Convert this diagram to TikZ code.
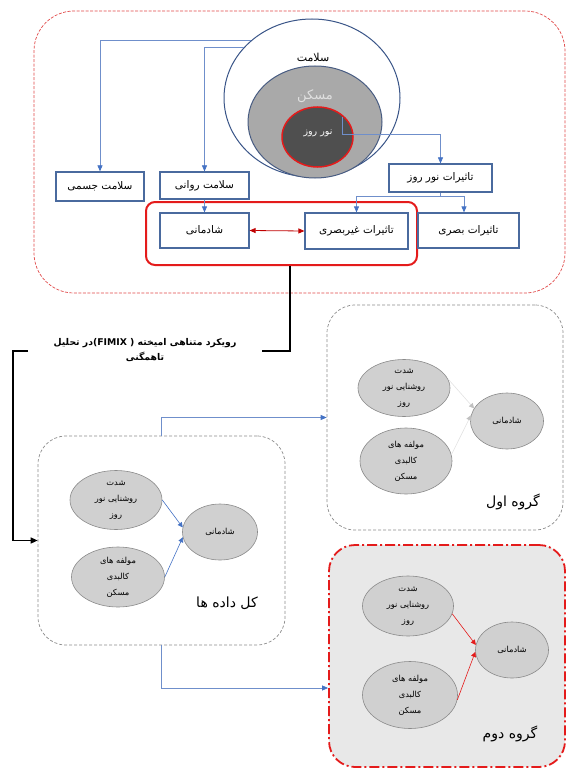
\documentclass[tikz,border=0pt]{standalone}
\usepackage{fontspec}
\usetikzlibrary{arrows.meta,shapes.geometric,calc}
\TeXXeTstate=1
\newfontfamily\arabicfont[Script=Arabic]{DejaVu Sans}
\newcommand{\fa}[1]{{\arabicfont\beginR #1\endR}}

\definecolor{boxblue}{HTML}{4A6A9E}
\definecolor{lineblue}{HTML}{6F8FCB}
\definecolor{tipblue}{HTML}{4472C4}
\definecolor{ringblue}{HTML}{3A5588}
\definecolor{homegray}{HTML}{A9A9A9}
\definecolor{homeedge}{HTML}{485C82}
\definecolor{daydark}{HTML}{4F4F4F}
\definecolor{framered}{HTML}{E04848}
\definecolor{strongred}{HTML}{E41B1B}
\definecolor{darkred}{HTML}{C00000}
\definecolor{dashgray}{HTML}{8C8C8C}
\definecolor{ovalfill}{HTML}{D0D0D0}
\definecolor{ovaledge}{HTML}{8A8A8A}
\definecolor{groupfill}{HTML}{E8E8E8}
\definecolor{palearrow}{HTML}{E2E2E2}

\begin{document}
\begin{tikzpicture}[x=1pt,y=-1pt,
  infobox/.style={draw=boxblue, line width=1.2pt, fill=white, inner sep=0pt,
    font=\fontsize{10.5}{12}\selectfont},
  conn/.style={draw=lineblue, line width=0.7pt,
    -{Triangle[length=6pt,width=5pt,color=tipblue]}},
  plainconn/.style={draw=lineblue, line width=0.7pt},
  oval/.style={ellipse, draw=ovaledge, fill=ovalfill, line width=0.6pt,
    inner sep=0pt, align=center, font=\fontsize{8.3}{16}\selectfont},
  groupframe/.style={draw=dashgray, line width=0.7pt,
    dash pattern=on 3pt off 2pt, rounded corners=28pt, inner sep=0pt},
  grouplabel/.style={font=\fontsize{14}{16}\selectfont},
  bluearrow/.style={draw=tipblue, line width=0.6pt,
    -{Triangle[length=5pt,width=5pt,color=tipblue]}},
  palearrowline/.style={draw=palearrow, line width=0.6pt,
    -{Triangle[length=5pt,width=5pt,color=palearrow!85!black]}},
  redarrow/.style={draw=strongred, line width=0.6pt,
    -{Triangle[length=5pt,width=5pt,color=strongred]}}
]
\useasboundingbox (0,0) rectangle (567,770);

% ---------- upper panel ----------
\node[draw=framered, line width=0.7pt, dash pattern=on 3pt off 1.5pt,
  rounded corners=40pt, minimum width=531, minimum height=282, inner sep=0pt]
  (topframe) at (299.5,152) {};

\node[ellipse, draw=ringblue, line width=1pt, fill=white, inner sep=0pt,
  minimum width=176, minimum height=158] (health) at (312,98) {};
\node[ellipse, draw=homeedge, line width=1pt, fill=homegray, inner sep=0pt,
  minimum width=134, minimum height=112] (home) at (315,122) {};
\node[ellipse, draw=strongred, line width=1.5pt, fill=daydark, inner sep=0pt,
  minimum width=71, minimum height=60] (daylight) at (317.5,137) {};

\node[font=\fontsize{11}{13}\selectfont] (healthlbl) at (313,57) {\fa{سلامت}};
\node[font=\fontsize{13}{15}\selectfont, text=black!12] (homelbl) at (315,96) {\fa{مسکن}};
\node[font=\fontsize{9.5}{11}\selectfont, text=white] (daylbl) at (318,133) {\fa{نور روز}};

\node[draw=strongred, line width=2pt, rounded corners=9pt, inner sep=0pt,
  minimum width=271, minimum height=63] (redbox) at (281.5,233.5) {};

\node[infobox, minimum width=88, minimum height=29] (physical) at (100,186.5) {\fa{سلامت جسمی}};
\node[infobox, minimum width=89, minimum height=27] (mental) at (204.5,185.5) {\fa{سلامت روانی}};
\node[infobox, minimum width=103, minimum height=28] (effects) at (440.5,178) {\fa{تاثیرات نور روز}};
\node[infobox, minimum width=89, minimum height=35] (happy) at (204.5,230.5) {\fa{شادمانی}};
\node[infobox, minimum width=103, minimum height=36] (nonvisual) at (356.5,231) {\fa{تاثیرات غیربصری}};
\node[infobox, minimum width=101, minimum height=35] (visual) at (468.5,230.5) {\fa{تاثیرات بصری}};

\draw[conn] (health.137) -| (physical.north);
\draw[conn] (health.143) -| (mental.north);
\coordinate (dstart) at ($(daylight.center)+(24.5,-20)$);
\draw[conn] (dstart) -- ++(0,17) -| (effects.north);
\draw[plainconn] (effects.south) -- ++(0,4) coordinate (split);
\draw[conn] (split) -| (nonvisual.north);
\draw[conn] (split) -| ($(visual.north)+(-4.5,0)$);
\draw[conn] (mental.south) -- (happy.north);
\draw[draw=darkred, line width=0.8pt,
  {Triangle[length=6pt,width=5pt,color=darkred]}-{Triangle[length=6pt,width=5pt,color=darkred]}]
  (happy.east) -- (nonvisual.west);

% ---------- link to the mixture analysis ----------
\coordinate (fimixR) at (262,351);
\coordinate (fimixL) at (28,351);
\draw[black, line width=1.4pt] ($(redbox.south)+(8.5,0)$) |- (fimixR);
\node[font=\bfseries\fontsize{9.3}{15}\selectfont, align=center] (fimix) at (145,350)
  {\fa{رویکرد متناهی امیخته (\beginL FIMIX \endL)در تحلیل}\\\fa{تاهمگنی}};

% ---------- whole data ----------
\node[groupframe, minimum width=247, minimum height=209] (allbox) at (161.5,540.5) {};
\draw[black, line width=1.4pt, -{Triangle[length=7pt,width=6pt]}]
  (fimixL) -- ++(-15,0) |- (allbox.west);

\node[oval, minimum width=92, minimum height=59] (alla) at (116,500)
  {\fa{شدت}\\\fa{روشنایی نور}\\\fa{روز}};
\node[oval, minimum width=93, minimum height=60] (allb) at (118,577)
  {\fa{مولفه های}\\\fa{کالبدی}\\\fa{مسکن}};
\node[oval, minimum width=75, minimum height=56] (allh) at (220,532) {\fa{شادمانی}};
\node[grouplabel] (alllbl) at (227,603) {\fa{کل داده ها}};
\draw[bluearrow] (alla.east) -- (allh.173);
\draw[bluearrow] (allb.east) -- (allh.188);

% ---------- first group ----------
\node[groupframe, minimum width=236, minimum height=225] (group1) at (445,417.5) {};
\node[oval, minimum width=92, minimum height=57] (gaa) at (404,388)
  {\fa{شدت}\\\fa{روشنایی نور}\\\fa{روز}};
\node[oval, minimum width=92, minimum height=66] (gab) at (406,461)
  {\fa{مولفه های}\\\fa{کالبدی}\\\fa{مسکن}};
\node[oval, minimum width=73, minimum height=56] (gah) at (507,421) {\fa{شادمانی}};
\node[grouplabel] (galbl) at (513,502) {\fa{گروه اول}};
\draw[palearrowline] (gaa.12) -- (gah.159);
\draw[palearrowline] (gab.8) -- (gah.171);

% ---------- second group ----------
\node[draw=strongred, line width=1.8pt, fill=groupfill,
  dash pattern=on 10pt off 3pt on 2pt off 3pt, rounded corners=26pt, inner sep=0pt,
  minimum width=236, minimum height=222] (group2) at (447,656) {};
\node[oval, minimum width=91, minimum height=60] (gba) at (408,606)
  {\fa{شدت}\\\fa{روشنایی نور}\\\fa{روز}};
\node[oval, minimum width=95, minimum height=67] (gbb) at (410,695)
  {\fa{مولفه های}\\\fa{کالبدی}\\\fa{مسکن}};
\node[oval, minimum width=73, minimum height=56] (gbh) at (512,650) {\fa{شادمانی}};
\node[grouplabel] (gblbl) at (510,734) {\fa{گروه دوم}};
\draw[redarrow] (gba.-10) -- (gbh.172);
\draw[redarrow] (gbb.-6) -- (gbh.183);

% ---------- links between the panels ----------
\draw[conn] (allbox.north) |- (group1.west);
\draw[conn] (allbox.south) |- ($(group2.west)+(0,32)$);
\end{tikzpicture}
\end{document}
